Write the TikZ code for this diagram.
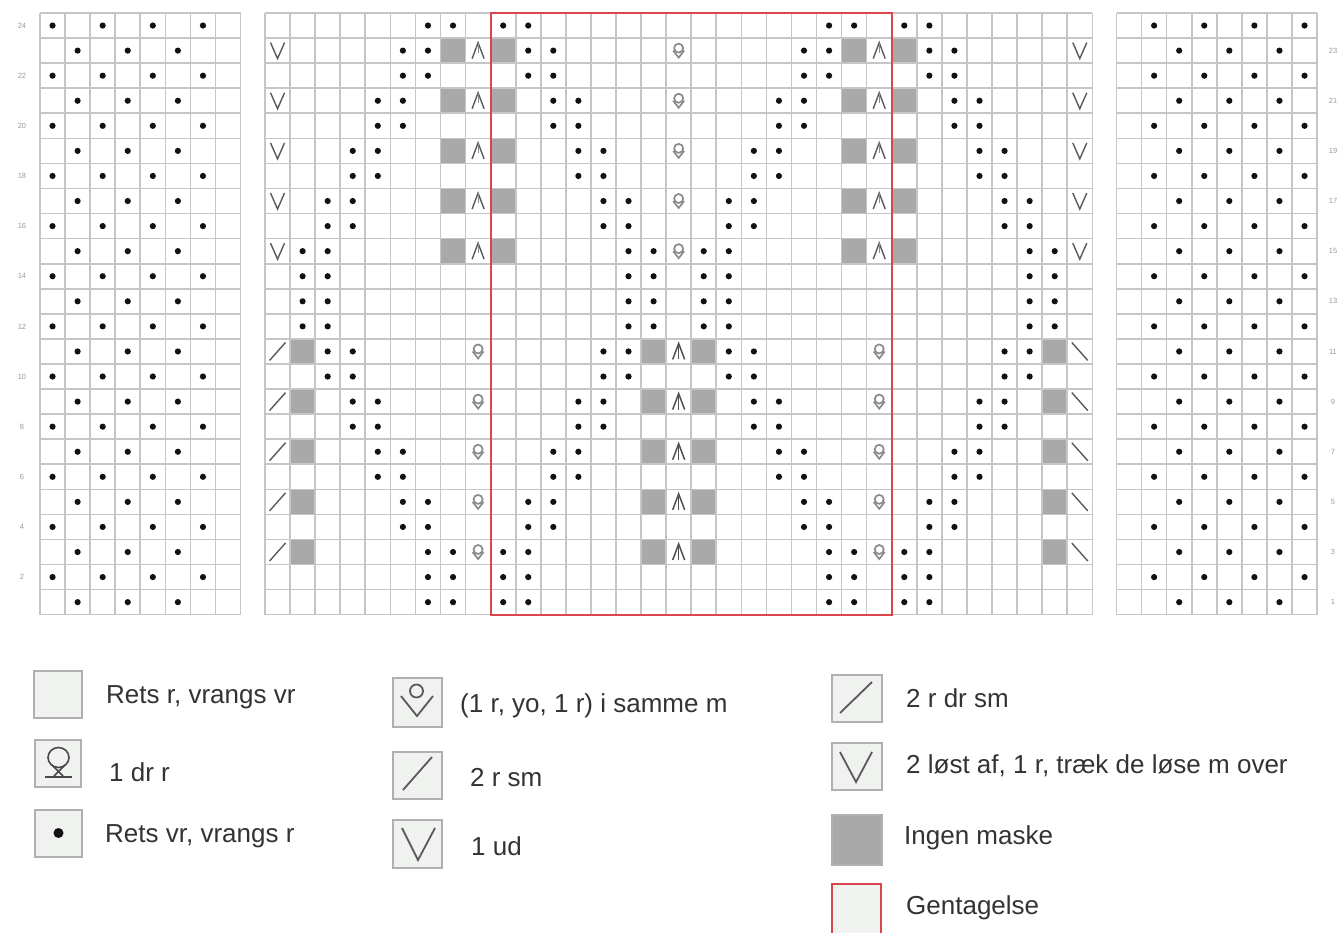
\documentclass[tikz,border=0pt]{standalone}
\usepackage{fontspec}
\setmainfont{Liberation Sans}
\definecolor{gridc}{HTML}{C6C6C6}
\definecolor{cellgray}{HTML}{A9A9A9}
\definecolor{redc}{HTML}{D9474E}
\definecolor{symc}{HTML}{5A5A5A}
\definecolor{incc}{HTML}{8A8A8A}
\definecolor{dotc}{HTML}{111111}
\definecolor{txtc}{HTML}{333333}
\definecolor{numc}{HTML}{9A9A9A}
\definecolor{legfill}{HTML}{EFF2EF}
\definecolor{legline}{HTML}{B0B0B0}
\begin{document}
\begin{tikzpicture}[x=1pt,y=-1pt,
  gridline/.style={gridc, line width=1.6pt},
  graycell/.style={fill=cellgray},
  rownum/.style={numc, font=\fontsize{7.5}{8}\selectfont, inner sep=0pt},
  legtext/.style={txtc, anchor=west, inner sep=0pt, font=\fontsize{26}{31}\selectfont},
  legbox/.style={draw=legline, line width=1.8pt, fill=legfill},
  pics/kdot/.style={code={\fill[dotc] (0,0) circle (3.1);}},
  pics/kvee/.style={code={\draw[symc, line width=1.4pt, line join=miter] (-7,-8) -- (0,8) -- (7,-8);}},
  pics/kcaret/.style={code={\draw[symc, line width=1.4pt] (-6,8) -- (0,-8) -- (6,8); \draw[symc!70, line width=0.8pt] (0,-8) -- (0,2);}},
  pics/kcaretbar/.style={code={\draw[symc!90!black, line width=1.5pt] (-6,8) -- (0,-8) -- (6,8); \draw[symc!90!black, line width=1.5pt] (0,-8) -- (0,8);}},
  pics/kslash/.style={code={\draw[symc, line width=1.4pt] (-8,9) -- (8,-9);}},
  pics/kbslash/.style={code={\draw[symc, line width=1.4pt] (-8,-9) -- (8,9);}},
  pics/kinc/.style={code={\draw[incc, line width=1.7pt] (0,-2.5) circle (4.5); \draw[incc, line width=1.7pt] (-5.5,0) -- (0,7) -- (5.5,0);}}
]
\def\cw{25.07}
\useasboundingbox (0,0) rectangle (1341,932);
\fill[white] (0,0) rectangle (1341,932);

% ---------- gray "no stitch" cells (middle chart) ----------
\foreach \r in {23,21,19,17,15}{
  \foreach \c in {8,10,24,26}{
    \fill[graycell] ({265+(\c-1)*\cw},{13+(24-\r)*\cw}) rectangle ({265+\c*\cw},{13+(25-\r)*\cw});
  }
}
\foreach \r in {11,9,7,5,3}{
  \foreach \c in {2,16,18,32}{
    \fill[graycell] ({265+(\c-1)*\cw},{13+(24-\r)*\cw}) rectangle ({265+\c*\cw},{13+(25-\r)*\cw});
  }
}

% ---------- grids ----------
\foreach \x/\n in {40/8,265/33,1116.5/8}{
  \foreach \i in {0,...,\n}{
    \draw[gridline] ({\x+\i*\cw},13) -- ({\x+\i*\cw},{13+24*\cw});
  }
  \foreach \j in {0,...,24}{
    \draw[gridline] (\x,{13+\j*\cw}) -- ({\x+\n*\cw},{13+\j*\cw});
  }
}

% ---------- dots, middle chart ----------
\foreach \r/\a in {24/7,23/6,22/6,21/5,20/5,19/4,18/4,17/3,16/3,15/2,14/2,13/2,12/2,11/3,10/3,9/4,8/4,7/5,6/5,5/6,4/6,3/7,2/7,1/7}{
  \pgfmathtruncatemacro\ca{\a}
  \pgfmathtruncatemacro\cb{\a+1}
  \pgfmathtruncatemacro\cc{17-\a}
  \pgfmathtruncatemacro\cd{18-\a}
  \pgfmathtruncatemacro\ce{16+\a}
  \pgfmathtruncatemacro\cf{17+\a}
  \pgfmathtruncatemacro\cg{33-\a}
  \pgfmathtruncatemacro\ch{34-\a}
  \foreach \c in {\ca,\cb,\cc,\cd,\ce,\cf,\cg,\ch}{
    \pic at ({265+(\c-0.5)*\cw},{13+(24.5-\r)*\cw}) {kdot};
  }
}

% ---------- symbols, upper part ----------
\foreach \r in {23,21,19,17,15}{
  \pic at ({265+0.5*\cw},{13+(24.5-\r)*\cw}) {kvee};
  \pic at ({265+32.5*\cw},{13+(24.5-\r)*\cw}) {kvee};
  \pic at ({265+8.5*\cw},{13+(24.5-\r)*\cw}) {kcaret};
  \pic at ({265+24.5*\cw},{13+(24.5-\r)*\cw}) {kcaret};
  \pic at ({265+16.5*\cw},{13+(24.5-\r)*\cw}) {kinc};
}
% ---------- symbols, lower part ----------
\foreach \r in {11,9,7,5,3}{
  \pic at ({265+0.5*\cw},{13+(24.5-\r)*\cw}) {kslash};
  \pic at ({265+32.5*\cw},{13+(24.5-\r)*\cw}) {kbslash};
  \pic at ({265+8.5*\cw},{13+(24.5-\r)*\cw}) {kinc};
  \pic at ({265+24.5*\cw},{13+(24.5-\r)*\cw}) {kinc};
  \pic at ({265+16.5*\cw},{13+(24.5-\r)*\cw}) {kcaretbar};
}

% ---------- side charts ----------
\foreach \r in {1,...,24}{
  \ifodd\r
    \foreach \c in {2,4,6}{\pic at ({40+(\c-0.5)*\cw},{13+(24.5-\r)*\cw}) {kdot};}
    \foreach \c in {3,5,7}{\pic at ({1116.5+(\c-0.5)*\cw},{13+(24.5-\r)*\cw}) {kdot};}
    \node[rownum] (rn\r) at (1333,{13+(24.5-\r)*\cw}) {\r};
  \else
    \foreach \c in {1,3,5,7}{\pic at ({40+(\c-0.5)*\cw},{13+(24.5-\r)*\cw}) {kdot};}
    \foreach \c in {2,4,6,8}{\pic at ({1116.5+(\c-0.5)*\cw},{13+(24.5-\r)*\cw}) {kdot};}
    \node[rownum] (rn\r) at (22,{13+(24.5-\r)*\cw}) {\r};
  \fi
}

% ---------- repeat box ----------
\draw[redc, line width=2pt] ({265+9*\cw},13) rectangle ({265+25*\cw},{13+24*\cw});

% ---------- legend, column 1 ----------
\draw[legbox] (34,671) rectangle (82,718);
\node[legtext] (t1) at (106,697) {Rets r, vrangs vr};
\draw[legbox] (35,740) rectangle (81,787);
\draw[symc!80!black, line width=1.6pt] (58.5,757.5) ellipse (10.5 and 10);
\draw[symc!80!black, line width=1.6pt] (52,765) -- (63,776);
\draw[symc!80!black, line width=1.6pt] (65,765) -- (54,776);
\draw[symc!80!black, line width=1.6pt] (45,777) -- (72,777);
\node[legtext] (t2) at (109,772) {1 dr r};
\draw[legbox] (35,810) rectangle (82,857);
\fill[dotc] (58.5,833) circle (5);
\node[legtext] (t3) at (105,836) {Rets vr, vrangs r};

% ---------- legend, column 2 ----------
\draw[legbox] (393,678) rectangle (442,727);
\draw[symc, line width=1.8pt] (416.5,691) circle (6.5);
\draw[symc, line width=1.8pt] (401,696) -- (417,716) -- (433,696);
\node[legtext] (t4) at (460,706) {(1 r, yo, 1 r) i samme m};
\draw[legbox] (393,752) rectangle (442,799);
\draw[symc, line width=1.8pt] (403,790) -- (432,757);
\node[legtext] (t5) at (470,778) {2 r sm};
\draw[legbox] (393,820) rectangle (442,868);
\draw[symc, line width=1.8pt] (402,828) -- (418,860) -- (435,828);
\node[legtext] (t6) at (471,846) {1 ud};

% ---------- legend, column 3 ----------
\draw[legbox] (832,675) rectangle (882,722);
\draw[symc, line width=1.8pt] (840,713) -- (872,682);
\node[legtext] (t7) at (906,698) {2 r dr sm};
\draw[legbox] (832,743) rectangle (882,790);
\draw[symc, line width=1.8pt] (840,752) -- (856,782) -- (872,752);
\node[legtext] (t8) at (906,766) {2 løst af, 1 r, træk de løse m over};
\draw[legline, line width=1.8pt, fill=cellgray] (832,815) rectangle (882,865);
\node[legtext] (t9) at (904,838) {Ingen maske};
\draw[redc, line width=2pt, fill=legfill] (832,884) rectangle (881,940);
\node[legtext] (t10) at (906,908) {Gentagelse};
\end{tikzpicture}
\end{document}
